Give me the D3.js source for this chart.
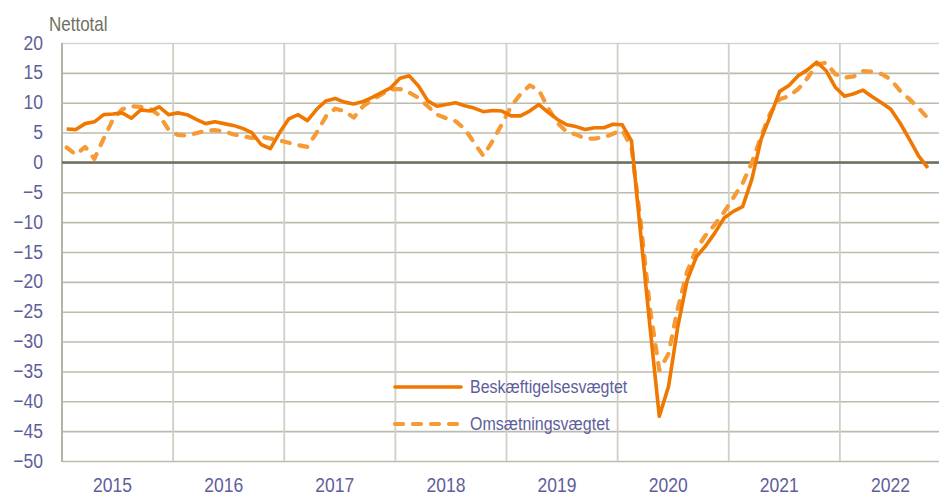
<!DOCTYPE html>
<html>
<head>
<meta charset="utf-8">
<script src="https://cdn.jsdelivr.net/npm/d3@7"></script>
<style>
  body { margin: 0; background: #fff; }
  svg { display: block; font-family: "Liberation Sans", Arial, sans-serif; }
</style>
</head>
<body>
<svg id="chart" width="939" height="495"></svg>
<script>
const years = [2015, 2016, 2017, 2018, 2019, 2020, 2021, 2022];
const yTicks = [20, 15, 10, 5, 0, -5, -10, -15, -20, -25, -30, -35, -40, -45, -50];

// monthly, Jan 2015 - Oct 2022
const beskaeftigelse = [
  5.6, 5.5, 6.5, 6.8, 8.0, 8.1, 8.3, 7.4, 8.8, 8.6, 9.3, 8.0,
  8.3, 8.0, 7.2, 6.5, 6.8, 6.5, 6.2, 5.7, 5.0, 3.0, 2.3, 5.0,
  7.3, 8.0, 7.0, 8.9, 10.3, 10.7, 10.1, 9.8, 10.2, 10.9, 11.7, 12.5,
  14.1, 14.5, 12.8, 10.3, 9.4, 9.7, 10.0, 9.5, 9.1, 8.5, 8.7, 8.6,
  7.8, 7.8, 8.6, 9.7, 8.4, 7.2, 6.3, 6.0, 5.5, 5.8, 5.8, 6.4,
  6.3, 3.6, -12.2, -27.6, -42.5, -37.5, -27.5, -19.8, -15.8, -14.0, -11.8, -9.3,
  -8.2, -7.4, -2.8, 3.9, 7.8, 11.9, 12.9, 14.5, 15.5, 16.8, 15.4, 12.6,
  11.1, 11.5, 12.1, 11.0, 10.0, 8.9, 6.6, 3.9, 1.1, -0.9
];
const omsaetning = [
  2.5, 1.3, 2.6, 0.6, 4.0, 7.2, 8.9, 9.4, 9.3, 9.0, 7.9, 5.5,
  4.6, 4.5, 4.9, 5.3, 5.4, 5.2, 4.7, 4.4, 4.1, 4.3, 4.0, 3.7,
  3.3, 2.9, 2.6, 5.0, 7.7, 9.0, 8.6, 7.5, 9.4, 10.5, 11.4, 12.2,
  12.3, 11.7, 10.8, 9.4, 8.0, 7.4, 6.9, 5.6, 3.3, 1.1, 3.6, 6.4,
  9.4, 11.4, 12.9, 12.1, 9.1, 6.6, 5.1, 4.7, 4.0, 4.0, 4.2, 4.8,
  5.4, 2.5, -10.2, -24.5, -34.8, -32.0, -24.4, -18.3, -14.5, -12.2, -10.4, -8.3,
  -5.9, -3.5, 0.0, 4.4, 8.3, 10.6, 11.1, 12.3, 14.1, 16.4, 16.7, 14.8,
  14.2, 14.4, 15.3, 15.2, 14.8, 13.9, 12.0, 10.6, 9.1, 7.4
];

const seriesNames = ["Beskæftigelsesvægtet", "Omsætningsvægtet"];

const plotLeft = 62, plotTop = 43, plotBottom = 461;
const plotRight = 951; // Dec 2022 end, cut off by the svg edge
const textColor = "#5e5e9c";
const stretch = "scale(1,1.16)"; // the source font is tall and narrow
const svg = d3.select("#chart");

const x = d3.scaleLinear().domain([0, years.length * 12]).range([plotLeft, plotRight]);
const y = d3.scaleLinear().domain([-50, 20]).range([plotBottom, plotTop]);
const yearBand = d3.scaleBand().domain(years).range([plotLeft, plotRight]);

// horizontal grid + y labels
const yAxis = svg.append("g")
  .attr("transform", "translate(" + plotLeft + ",0)")
  .call(d3.axisLeft(y).tickValues(yTicks).tickSize(-(plotRight - plotLeft)).tickPadding(19));
yAxis.select(".domain").remove();
yAxis.selectAll("line")
  .attr("stroke", (d) => (d === 20 ? "#d6d6cd" : "#bcbcae"))
  .attr("stroke-width", 1.6);
yAxis.selectAll("text")
  .attr("fill", textColor)
  .attr("dy", "0.3em")
  .attr("transform", stretch)
  .style("font-size", "17.5px");

// vertical year lines
svg.append("g")
  .selectAll("line")
  .data(years.slice(1))
  .enter()
  .append("line")
  .attr("x1", (d) => yearBand(d))
  .attr("x2", (d) => yearBand(d))
  .attr("y1", plotTop)
  .attr("y2", plotBottom)
  .attr("stroke", "#d0d0c6")
  .attr("stroke-width", 1.8);

// left axis line
svg.append("line")
  .attr("x1", plotLeft).attr("x2", plotLeft)
  .attr("y1", plotTop).attr("y2", plotBottom + 1)
  .attr("stroke", "#b4b4a6")
  .attr("stroke-width", 2);

// zero line
svg.append("line")
  .attr("x1", plotLeft).attr("x2", plotRight)
  .attr("y1", y(0)).attr("y2", y(0))
  .attr("stroke", "#6e6e5f")
  .attr("stroke-width", 2.4);

// year labels
const xAxis = svg.append("g")
  .attr("transform", "translate(0," + plotBottom + ")")
  .call(d3.axisBottom(yearBand).tickSize(0));
xAxis.select(".domain").remove();
xAxis.selectAll("text")
  .attr("fill", textColor)
  .attr("x", -5)
  .attr("y", 31 / 1.16)
  .attr("dy", null)
  .attr("transform", stretch)
  .style("font-size", "17.5px");

svg.append("text")
  .attr("transform", "translate(49,31) scale(1,1.22)")
  .attr("fill", "#707062")
  .style("font-size", "17px")
  .text("Nettotal");

const line = d3.line()
  .x((d, i) => x(i + 0.5))
  .y((d) => y(d));

svg.append("path")
  .datum(omsaetning)
  .attr("fill", "none")
  .attr("stroke", "#f59a35")
  .attr("stroke-width", 4.2)
  .attr("stroke-dasharray", "8,10")
  .attr("stroke-linecap", "round")
  .attr("stroke-linejoin", "round")
  .attr("d", line);

svg.append("path")
  .datum(beskaeftigelse)
  .attr("fill", "none")
  .attr("stroke", "#f07800")
  .attr("stroke-width", 3.6)
  .attr("stroke-linejoin", "round")
  .attr("d", line);

// legend
const legend = svg.append("g");
const legendRows = [
  { name: seriesNames[0], color: "#f07800", dash: null, w: 3.6, cy: 387 },
  { name: seriesNames[1], color: "#f59a35", dash: "8,10", w: 4.2, cy: 424 }
];
legendRows.forEach((r) => {
  legend.append("line")
    .attr("x1", 395).attr("x2", 461)
    .attr("y1", r.cy).attr("y2", r.cy)
    .attr("stroke", r.color)
    .attr("stroke-width", r.w)
    .attr("stroke-linecap", "round")
    .attr("stroke-dasharray", r.dash);
  legend.append("text")
    .attr("transform", "translate(470," + (r.cy + 6.3) + ") " + stretch)
    .attr("fill", textColor)
    .style("font-size", "16px")
    .text(r.name);
});
</script>
</body>
</html>
